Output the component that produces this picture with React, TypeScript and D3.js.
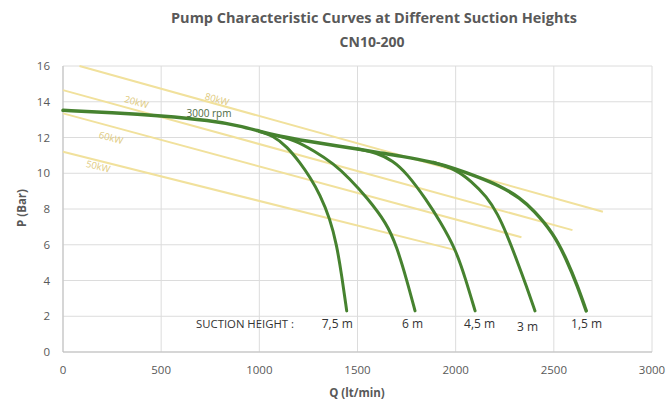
import React from "react";
import * as d3 from "d3";

const W = 667, H = 405;
const xTicks = [0, 500, 1000, 1500, 2000, 2500, 3000];
const yTicks = [0, 2, 4, 6, 8, 10, 12, 14, 16];

// Main 3000 rpm curve (continues as 1,5 m)
const mainCurve: [number, number][] = [
  [0, 13.52], [250, 13.4], [500, 13.22], [750, 12.95], [900, 12.65], [1000, 12.35],
  [1100, 12.07], [1250, 11.78], [1400, 11.52], [1500, 11.36], [1600, 11.17], [1717, 10.97],
  [1886, 10.62], [2000, 10.25], [2100, 9.85], [2226, 9.3], [2330, 8.6], [2396, 7.94],
  [2497, 6.66], [2566, 5.15], [2620, 3.7], [2665, 2.3],
];
const branch75: [number, number][] = [
  [1000, 12.35], [1070, 12.1], [1140, 11.5], [1207, 10.6], [1260, 9.75], [1309, 8.8],
  [1360, 7.45], [1394, 6.0], [1420, 4.25], [1445, 2.3],
];
const branch6: [number, number][] = [
  [1100, 12.07], [1180, 11.85], [1280, 11.25], [1377, 10.55], [1460, 9.7], [1547, 8.65],
  [1649, 7.2], [1700, 5.89], [1751, 4.03], [1793, 2.3],
];
const branch45: [number, number][] = [
  [1500, 11.36], [1600, 11.14], [1680, 10.7], [1751, 10.0], [1852, 8.5], [1921, 7.3],
  [2000, 5.75], [2050, 4.1], [2099, 2.3],
];
const branch3: [number, number][] = [
  [1886, 10.62], [2000, 10.22], [2080, 9.55], [2158, 8.7], [2215, 7.7], [2260, 6.6],
  [2311, 5.15], [2360, 3.7], [2404, 2.3],
];

// Power lines
const powerLines: { label: string; start: [number, number]; end: [number, number]; labelAt: [number, number] }[] = [
  { label: "80kW", start: [84, 16], end: [2750, 7.85], labelAt: [780, 13.95] },
  { label: "20kW", start: [0, 14.65], end: [2595, 6.82], labelAt: [370, 13.8] },
  { label: "60kW", start: [0, 13.35], end: [2335, 6.42], labelAt: [240, 11.8] },
  { label: "50kW", start: [0, 11.2], end: [2000, 5.7], labelAt: [175, 10.2] },
];

const suctionLabels = ["7,5 m", "6 m", "4,5 m", "3 m", "1,5 m"];
const suctionLabelQ = [1397, 1780, 2122, 2366, 2667];

export default function App() {
  const x = d3.scaleLinear().domain([0, 3000]).range([63, 652]);
  const y = d3.scaleLinear().domain([0, 16]).range([352, 66]);
  const line = d3
    .line<[number, number]>()
    .x((d) => x(d[0]))
    .y((d) => y(d[1]))
    .curve(d3.curveBasis);
  const font = "'Open Sans', 'Liberation Sans', sans-serif";
  const grey = "#595959";
  const green = "#46822f";
  const yellow = "#f1e19c";
  const angle = (s: [number, number], e: [number, number]) =>
    (Math.atan2(y(e[1]) - y(s[1]), x(e[0]) - x(s[0])) * 180) / Math.PI;

  return (
    <svg width={W} height={H} style={{ position: "absolute", left: 0, top: 0, background: "#fff" }} fontFamily={font}>
      <rect width={W} height={H} fill="#fff" />
      <text x={374} y={23} textAnchor="middle" fontSize={14} fontWeight="bold" fill={grey} textLength={406} lengthAdjust="spacingAndGlyphs">
        Pump Characteristic Curves at Different Suction Heights
      </text>
      <text x={372} y={47} textAnchor="middle" fontSize={14} fontWeight="bold" fill={grey}>
        CN10-200
      </text>
      {/* grid */}
      {xTicks.map((t) => (
        <line key={"gx" + t} x1={x(t)} x2={x(t)} y1={y(16)} y2={y(0)} stroke="#dcdcdc" strokeWidth={1} />
      ))}
      {yTicks.map((t) => (
        <line key={"gy" + t} x1={x(0)} x2={x(3000)} y1={y(t)} y2={y(t)} stroke="#dcdcdc" strokeWidth={1} />
      ))}
      <line x1={x(0)} x2={x(0)} y1={y(16)} y2={y(0)} stroke="#bfbfbf" strokeWidth={1} />
      <line x1={x(0)} x2={x(3000)} y1={y(0)} y2={y(0)} stroke="#bfbfbf" strokeWidth={1} />
      {yTicks.map((t) => (
        <text key={"yl" + t} x={50} y={y(t) + 4} textAnchor="end" fontSize={11.5} fill={grey}>
          {t}
        </text>
      ))}
      {xTicks.map((t) => (
        <text key={"xl" + t} x={x(t)} y={374} textAnchor="middle" fontSize={11.5} fill={grey}>
          {t}
        </text>
      ))}
      <text transform={`translate(26,208) rotate(-90)`} textAnchor="middle" fontSize={11.5} fontWeight="bold" fill={grey}>
        P (Bar)
      </text>
      <text x={357} y={397} textAnchor="middle" fontSize={11.5} fontWeight="bold" fill={grey}>
        Q (lt/min)
      </text>
      {/* power lines */}
      {powerLines.map((p) => (
        <g key={p.label}>
          <line x1={x(p.start[0])} y1={y(p.start[1])} x2={x(p.end[0])} y2={y(p.end[1])} stroke={yellow} strokeWidth={2} />
          <text
            transform={`translate(${x(p.labelAt[0])},${y(p.labelAt[1])}) rotate(${angle(p.start, p.end)})`}
            textAnchor="middle"
            fontSize={9.5}
            fill="#e0ca7e"
          >
            {p.label}
          </text>
        </g>
      ))}
      {/* pump curves */}
      {[branch75, branch6, branch45, branch3].map((b, i) => (
        <path key={"b" + i} d={line(b) || ""} fill="none" stroke={green} strokeWidth={3} strokeLinecap="round" />
      ))}
      <path d={line(mainCurve) || ""} fill="none" stroke={green} strokeWidth={3.5} strokeLinecap="round" />
      <text x={209} y={117} textAnchor="middle" fontSize={10} fill="#4d6b3f">
        3000 rpm
      </text>
      <text x={245} y={327.5} textAnchor="middle" fontSize={11.5} fill="#333" textLength={98} lengthAdjust="spacingAndGlyphs">
        SUCTION HEIGHT :
      </text>
      {suctionLabels.map((s, i) => (
        <text key={s} x={x(suctionLabelQ[i])} y={i === 3 ? 331 : 328} textAnchor="middle" fontSize={12} fill="#333">
          {s}
        </text>
      ))}
    </svg>
  );
}
